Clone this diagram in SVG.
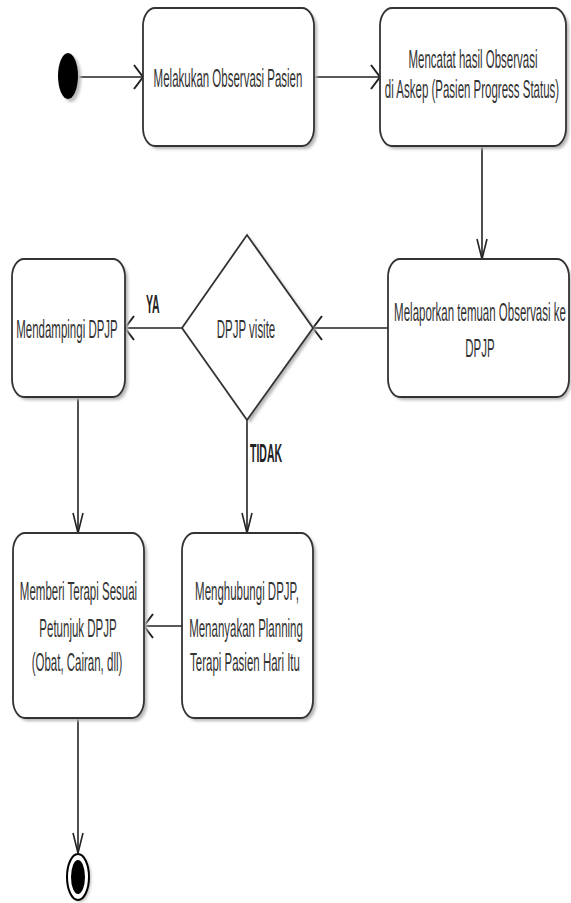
<svg xmlns="http://www.w3.org/2000/svg" width="571" height="903" viewBox="0 0 571 903">
<defs>
<filter id="sh" x="-10%" y="-10%" width="130%" height="130%"><feGaussianBlur stdDeviation="1.5"/></filter>
<marker id="ah" markerUnits="userSpaceOnUse" markerWidth="12" markerHeight="28" refX="10" refY="13" orient="auto" viewBox="0 0 12 28" overflow="visible">
<path d="M1,1 L10,13 L1,25" fill="none" stroke="#222" stroke-width="2"/>
</marker>
<marker id="av" markerUnits="userSpaceOnUse" markerWidth="24" markerHeight="14" refX="21" refY="7" orient="auto" viewBox="0 0 24 14" overflow="visible">
<path d="M1,2 L21,7 L1,12" fill="none" stroke="#222" stroke-width="1.6"/>
</marker>
</defs>
<style>
.box{fill:#fff;stroke:#333;stroke-width:1.8}
.shadow{fill:#b5b5b5;filter:url(#sh)}
.t{font-family:"Liberation Sans",Arial,sans-serif;font-size:25px;fill:#333;text-anchor:middle}
.b{font-family:"Liberation Sans",Arial,sans-serif;font-size:25px;font-weight:bold;fill:#222}
.ln{fill:none;stroke:#222;stroke-width:1.6}
</style>
<rect width="571" height="903" fill="#fff"/>
<g id="connectors">
<line class="ln" x1="78" y1="77" x2="143" y2="77" marker-end="url(#ah)"/>
<line class="ln" x1="314" y1="77" x2="380" y2="77" marker-end="url(#ah)"/>
<line class="ln" x1="482" y1="146" x2="482" y2="259" marker-end="url(#av)"/>
<line class="ln" x1="388" y1="328" x2="313" y2="328" marker-end="url(#ah)"/>
<line class="ln" x1="182" y1="328" x2="125" y2="328" marker-end="url(#ah)"/>
<line class="ln" x1="78" y1="397" x2="78" y2="533" marker-end="url(#av)"/>
<line class="ln" x1="247" y1="420" x2="247" y2="533" marker-end="url(#av)"/>
<line class="ln" x1="182" y1="626" x2="144" y2="626" marker-end="url(#ah)"/>
<line class="ln" x1="78" y1="718" x2="78" y2="853" marker-end="url(#av)"/>
<text class="b" transform="translate(146,313) scale(0.42,1)">YA</text>
<text class="b" transform="translate(250,462) scale(0.42,1)">TIDAK</text>
</g>
<g id="start">
<ellipse cx="71" cy="79" rx="10" ry="23" fill="#bbb" filter="url(#sh)"/>
<ellipse cx="68" cy="76" rx="10" ry="23" fill="#000"/>
</g>
<g id="n1">
<rect class="shadow" x="146" y="11" width="171" height="138" rx="12" ry="18"/>
<rect class="box" x="143" y="8" width="171" height="138" rx="12" ry="18"/>
<text class="t" transform="translate(228,87) scale(0.46,1)">Melakukan Observasi Pasien</text>
</g>
<g id="n2">
<rect class="shadow" x="383" y="11" width="186" height="138" rx="12" ry="18"/>
<rect class="box" x="380" y="8" width="186" height="138" rx="12" ry="18"/>
<text class="t" transform="translate(473,68) scale(0.46,1)">Mencatat hasil Observasi</text>
<text class="t" transform="translate(472,98) scale(0.46,1)">di Askep (Pasien Progress Status)</text>
</g>
<g id="n3">
<rect class="shadow" x="391" y="262" width="180" height="138" rx="12" ry="18"/>
<rect class="box" x="388" y="259" width="181" height="138" rx="12" ry="18"/>
<text class="t" transform="translate(480,321) scale(0.46,1)">Melaporkan temuan Observasi ke</text>
<text class="t" transform="translate(480,357) scale(0.46,1)">DPJP</text>
</g>
<g id="decision">
<path d="M250,238 L316,330 L250,423 L185,330 Z" fill="#b5b5b5" filter="url(#sh)"/>
<path d="M247,235 L313,328 L247,420 L182,328 Z" fill="#fff" stroke="#333" stroke-width="1.8"/>
<text class="t" transform="translate(246,338) scale(0.46,1)">DPJP visite</text>
</g>
<g id="n4">
<rect class="shadow" x="15" y="262" width="113" height="138" rx="12" ry="18"/>
<rect class="box" x="12" y="259" width="113" height="138" rx="12" ry="18"/>
<text class="t" transform="translate(67,338) scale(0.46,1)">Mendampingi DPJP</text>
</g>
<g id="n5">
<rect class="shadow" x="16" y="536" width="131" height="185" rx="12" ry="18"/>
<rect class="box" x="13" y="533" width="131" height="185" rx="12" ry="18"/>
<text class="t" transform="translate(78.5,600) scale(0.46,1)">Memberi Terapi Sesuai</text>
<text class="t" transform="translate(78,637) scale(0.46,1)">Petunjuk DPJP</text>
<text class="t" transform="translate(77,671) scale(0.46,1)">(Obat, Cairan, dll)</text>
</g>
<g id="n6">
<rect class="shadow" x="185" y="536" width="131" height="185" rx="12" ry="18"/>
<rect class="box" x="182" y="533" width="131" height="185" rx="12" ry="18"/>
<text class="t" transform="translate(247,600) scale(0.46,1)">Menghubungi DPJP,</text>
<text class="t" transform="translate(246,637) scale(0.46,1)">Menanyakan Planning</text>
<text class="t" transform="translate(245,671) scale(0.46,1)">Terapi Pasien Hari Itu</text>
</g>
<g id="end">
<ellipse cx="80" cy="879" rx="11" ry="23" fill="#bbb" filter="url(#sh)"/>
<ellipse cx="78" cy="877" rx="11" ry="23" fill="#fff" stroke="#000" stroke-width="2"/>
<ellipse cx="78" cy="877" rx="7" ry="17" fill="#000"/>
</g>
</svg>
